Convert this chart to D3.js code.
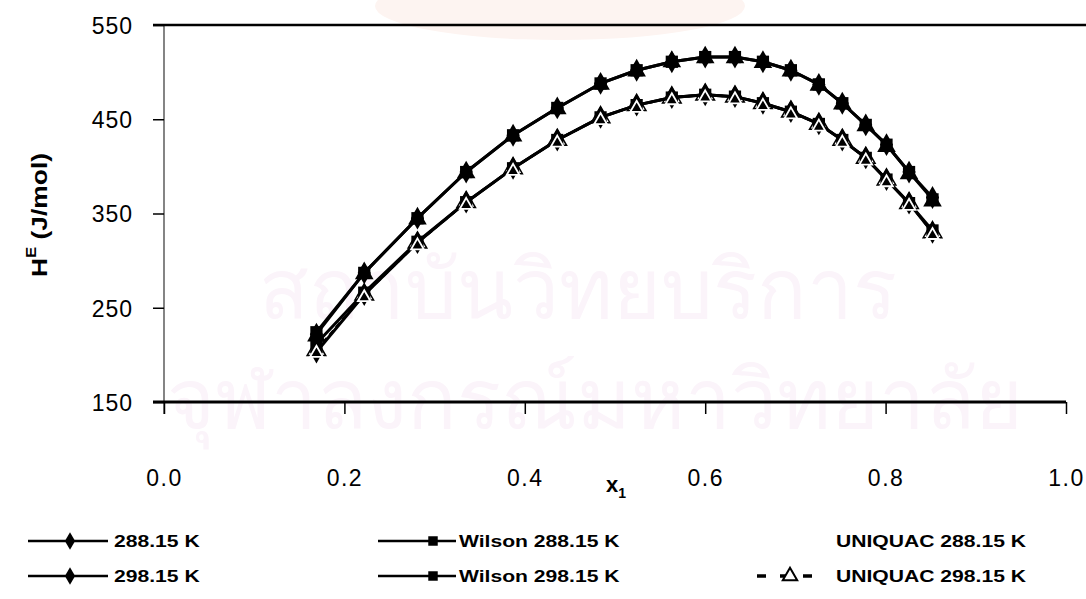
<!DOCTYPE html>
<html>
<head>
<meta charset="utf-8">
<script src="https://cdn.jsdelivr.net/npm/d3@7"></script>
<style>
  html, body { margin: 0; padding: 0; background: #fff; }
  svg { display: block; }
  text { font-family: "Liberation Sans", Arial, sans-serif; fill: #000; }
</style>
</head>
<body>
<svg id="chart" width="1086" height="599"></svg>
<script>
// Mole fraction of component 1
const x1 = [0.169, 0.222, 0.281, 0.335, 0.387, 0.436, 0.484, 0.524, 0.563, 0.600,
            0.633, 0.664, 0.695, 0.726, 0.752, 0.778, 0.801, 0.826, 0.852];

// Excess enthalpy H^E (J/mol), experimental
const exp288 = [222, 287, 345, 394, 433, 462, 488, 502, 511, 516,
                516, 511, 502, 487, 467, 444, 423, 394, 367];
const exp298 = [203, 264, 319, 362, 398, 428, 452, 465, 473, 476,
                474, 467, 458, 445, 428, 409, 386, 361, 330];

// Model correlations
const wilson288 = [224, 287, 345, 394, 433, 462, 488, 502, 511, 516,
                   516, 511, 502, 487, 467, 444, 423, 394, 365];
const wilson298 = [212, 266, 320, 362, 398, 428, 452, 465, 473, 476,
                   474, 467, 458, 445, 428, 409, 386, 361, 332];
const uniquac288 = [220, 286, 344, 393, 432, 461, 487, 501, 511, 515,
                    515, 510, 501, 486, 466, 443, 421, 392, 363];
const uniquac298 = [205, 264, 319, 362, 398, 428, 452, 465, 473, 476,
                    474, 467, 458, 445, 428, 409, 386, 361, 330];

const xTicks = [0.0, 0.2, 0.4, 0.6, 0.8, 1.0];
const yTicks = [150, 250, 350, 450, 550];

const svg = d3.select("#chart");

// Faint background watermark
const wm = svg.append("g").attr("class", "watermark");
wm.append("ellipse").attr("cx", 560).attr("cy", 6).attr("rx", 185).attr("ry", 34)
  .attr("fill", "#fdf4f1");
wm.append("text").attr("x", 578).attr("y", 318).attr("text-anchor", "middle")
  .style("font-family", "'Noto Sans', 'DejaVu Sans', sans-serif")
  .style("font-size", "82px").style("fill", "#fbf4fa")
  .text("สถาบันวิทยบริการ");
wm.append("text").attr("x", 595).attr("y", 428).attr("text-anchor", "middle")
  .style("font-family", "'Noto Sans', 'DejaVu Sans', sans-serif")
  .style("font-size", "82px").style("fill", "#fbf4fa")
  .text("จุฬาลงกรณ์มหาวิทยาลัย");

const x = d3.scaleLinear().domain([0, 1]).range([164, 1066]);
const y = d3.scaleLinear().domain([150, 550]).range([402, 25]);

// Frame: thin left axis, heavy top and bottom lines
svg.append("line").attr("x1", 164).attr("x2", 164).attr("y1", y(550)).attr("y2", y(150) + 12)
  .attr("stroke", "#333").attr("stroke-width", 1.2);
svg.append("line").attr("x1", 153).attr("x2", 1086).attr("y1", y(550)).attr("y2", y(550))
  .attr("stroke", "#000").attr("stroke-width", 2.5);

// y axis ticks and labels
const yAxis = d3.axisLeft(y).tickValues(yTicks).tickSize(11).tickPadding(20)
  .tickFormat(d3.format("d"));
const gy = svg.append("g").attr("transform", "translate(164,0)").call(yAxis);
gy.select(".domain").remove();
gy.selectAll(".tick line").attr("stroke", "#000").attr("stroke-width", 1.5);
gy.selectAll(".tick text").style("font-size", "23px").style("letter-spacing", "1px")
  .attr("dy", "0.36em");

// x axis
const xAxis = d3.axisBottom(x).tickValues(xTicks).tickSize(12).tickPadding(56)
  .tickFormat(d3.format(".1f"));
const gx = svg.append("g").attr("transform", `translate(0,${y(150)})`).call(xAxis);
gx.select(".domain").attr("d", `M153,0H${x(1)}`).attr("stroke", "#000").attr("stroke-width", 3);
gx.selectAll(".tick line").attr("stroke", "#000").attr("stroke-width", 1.5);
gx.selectAll(".tick text").style("font-size", "23px").style("letter-spacing", "1.5px");

// Axis titles
const xt = svg.append("text").attr("x", 606).attr("y", 492)
  .style("font-size", "22px").style("font-weight", "bold");
xt.append("tspan").text("x");
xt.append("tspan").attr("dy", 6).style("font-size", "14px").text("1");

const yt = svg.append("text").attr("transform", "translate(47,215) rotate(-90) scale(1.2,1)")
  .attr("text-anchor", "middle").style("font-size", "22px").style("font-weight", "bold");
yt.append("tspan").text("H");
yt.append("tspan").attr("dy", -11).style("font-size", "14px").text("E");
yt.append("tspan").attr("dy", 11).text(" (J/mol)");

// Marker shapes
const diamond = d3.symbol().type(d3.symbolDiamond).size(150);
const square = d3.symbol().type(d3.symbolSquare).size(150);
const triangle = d3.symbol().type(d3.symbolTriangle).size(150);

const line = d3.line().x(d => x(d[0])).y(d => y(d[1]));
const pairs = arr => x1.map((v, i) => [v, arr[i]]);

const plot = svg.append("g");

function drawSeries(vals, opts) {
  const pts = pairs(vals);
  if (opts.stroke) {
    plot.append("path").datum(pts).attr("d", line)
      .attr("fill", "none").attr("stroke", opts.stroke)
      .attr("stroke-width", opts.width || 3)
      .attr("stroke-dasharray", opts.dash || null)
      .attr("stroke-linejoin", "round");
  }
  plot.selectAll(null).data(pts).enter().append("path")
    .attr("d", opts.symbol)
    .attr("transform", d => `translate(${x(d[0])},${y(d[1])})`)
    .attr("fill", opts.fill).attr("stroke", opts.mstroke || "none")
    .attr("stroke-width", opts.mwidth || 0);
}

// 298.15 K family
drawSeries(uniquac298, { symbol: triangle, stroke: "#000", width: 2.5, dash: "6,4", fill: "#fff", mstroke: "#000", mwidth: 1.5 });
drawSeries(exp298, { symbol: diamond, stroke: "#000", width: 3, fill: "#000" });
drawSeries(wilson298, { symbol: square, stroke: "#000", width: 3, fill: "#000" });
// 288.15 K family
drawSeries(uniquac288, { symbol: triangle, stroke: null, fill: "#000" });
drawSeries(exp288, { symbol: diamond, stroke: "#000", width: 3, fill: "#000" });
drawSeries(wilson288, { symbol: square, stroke: "#000", width: 3, fill: "#000" });
// open triangle outlines of the 298.15 K model on top
plot.selectAll(null).data(pairs(uniquac298)).enter().append("path")
  .attr("d", d3.symbol().type(d3.symbolTriangle).size(70))
  .attr("transform", d => `translate(${x(d[0])},${y(d[1]) + 3})`)
  .attr("fill", "none").attr("stroke", "#fff").attr("stroke-width", 1.8);

// Legend
const legend = svg.append("g").attr("class", "legend");
const legendItems = [
  { label: "288.15 K", x0: 28, x1: 108, mx: 70, tx: 114, row: 0, type: d3.symbolDiamond, fill: "#000", lineColor: "#000" },
  { label: "298.15 K", x0: 28, x1: 108, mx: 70, tx: 114, row: 1, type: d3.symbolDiamond, fill: "#000", lineColor: "#000" },
  { label: "Wilson 288.15 K", x0: 378, x1: 456, mx: 433, tx: 459, row: 0, type: d3.symbolSquare, fill: "#000", lineColor: "#000" },
  { label: "Wilson 298.15 K", x0: 378, x1: 456, mx: 433, tx: 459, row: 1, type: d3.symbolSquare, fill: "#000", lineColor: "#000" },
  { label: "UNIQUAC 288.15 K", x0: 757, x1: 820, mx: 790, tx: 836, row: 0, type: d3.symbolTriangle, fill: "#fff", lineColor: "#fff" },
  { label: "UNIQUAC 298.15 K", x0: 757, x1: 820, mx: 790, tx: 836, row: 1, type: d3.symbolTriangle, fill: "#fff", lineColor: "#000", dash: "9,14", mstroke: "#000" }
];
const rowY = [541, 576];
legendItems.forEach(it => {
  const ly = rowY[it.row];
  legend.append("line").attr("x1", it.x0).attr("x2", it.x1).attr("y1", ly).attr("y2", ly)
    .attr("stroke", it.lineColor).attr("stroke-width", it.dash ? 3.5 : 2.5)
    .attr("stroke-dasharray", it.dash || null);
  legend.append("path").attr("d", d3.symbol().type(it.type).size(90)())
    .attr("transform", `translate(${it.mx},${ly})`)
    .attr("fill", it.fill).attr("stroke", it.mstroke || "none").attr("stroke-width", 2);
  legend.append("text").attr("transform", `translate(${it.tx},${ly + 6}) scale(1.28,1)`)
    .style("font-size", "16.5px").style("font-weight", "bold").text(it.label);
});
</script>
</body>
</html>
